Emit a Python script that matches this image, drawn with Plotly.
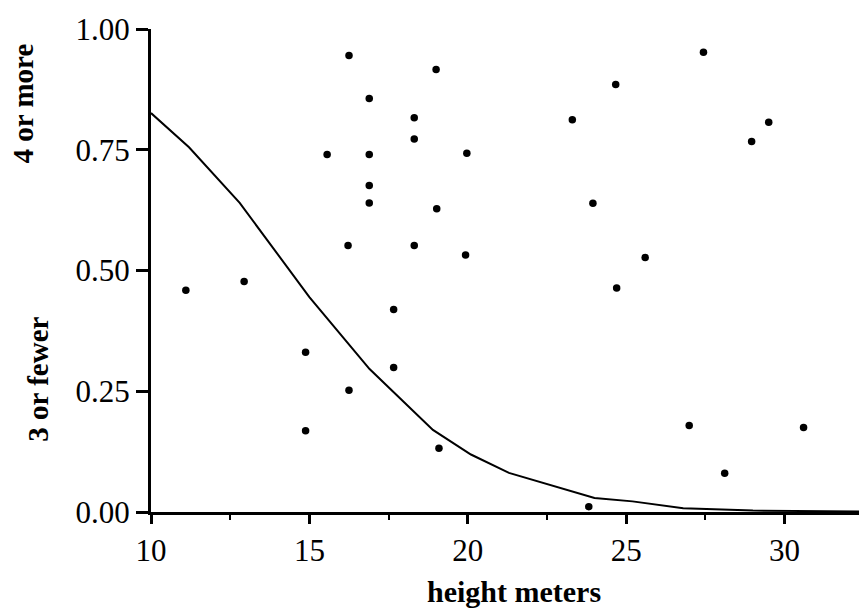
import plotly.graph_objects as go

# Scatter data (height meters, proportion)
height_pts = [11.1, 12.94, 16.25, 16.89, 18.31, 18.31, 15.56, 16.89, 16.89, 16.89,
              16.22, 18.31, 19.0, 24.67, 27.44, 23.30, 29.50, 28.96, 19.97, 19.02,
              23.95, 19.93, 25.60, 24.70, 17.66, 14.88, 17.66, 16.25, 14.88, 19.09,
              26.99, 30.60, 28.11, 23.82]
prop_pts = [0.459, 0.477, 0.945, 0.856, 0.816, 0.772, 0.740, 0.740, 0.676, 0.640,
            0.552, 0.552, 0.916, 0.885, 0.952, 0.812, 0.807, 0.767, 0.743, 0.628,
            0.639, 0.532, 0.527, 0.464, 0.419, 0.331, 0.299, 0.252, 0.168, 0.132,
            0.179, 0.175, 0.080, 0.011]

# Fitted curve vertices
curve_x = [10, 11.2, 12.8, 15.0, 16.9, 18.9, 20.1, 21.3, 24.0, 25.2, 26.8, 29.0, 32.4]
curve_y = [0.826, 0.755, 0.640, 0.445, 0.296, 0.170, 0.119, 0.081, 0.029, 0.022, 0.008, 0.003, 0.001]

x_ticks = [10, 15, 20, 25, 30]
y_ticks = [0.00, 0.25, 0.50, 0.75, 1.00]
y_tick_labels = ["0.00", "0.25", "0.50", "0.75", "1.00"]

FONT = "Liberation Serif, Times New Roman, serif"

fig = go.Figure()
fig.add_trace(go.Scatter(x=curve_x, y=curve_y, mode="lines",
                         line=dict(color="black", width=2), showlegend=False,
                         cliponaxis=False))
fig.add_trace(go.Scatter(x=height_pts, y=prop_pts, mode="markers",
                         marker=dict(color="black", size=7.5, symbol="circle"),
                         showlegend=False))

fig.update_layout(
    width=859, height=610,
    margin=dict(l=151, r=0, t=29, b=98),
    paper_bgcolor="white", plot_bgcolor="white",
    font=dict(family=FONT, color="black", size=29),
    xaxis=dict(range=[10, 32.35], tickvals=x_ticks, ticks="outside", ticklen=9,
               tickwidth=2.5, tickcolor="black", showline=True, linecolor="black",
               linewidth=3, showgrid=False, zeroline=False,
               tickfont=dict(family=FONT, size=31),
               minor=dict(dtick=2.5, tick0=10, ticks="outside", ticklen=5,
                          tickwidth=2, tickcolor="black", showgrid=False)),
    yaxis=dict(range=[0, 1], tickvals=y_ticks, ticktext=y_tick_labels,
               ticks="outside", ticklen=12, tickwidth=2.5, tickcolor="black",
               showline=True, linecolor="black", linewidth=3, showgrid=False,
               zeroline=False, tickfont=dict(family=FONT, size=31)),
    annotations=[
        dict(text="<b>4 or more</b>", xref="paper", yref="paper",
             x=-0.1815, y=0.847, textangle=-90, showarrow=False,
             font=dict(family=FONT, size=29), xanchor="center", yanchor="middle"),
        dict(text="<b>3 or fewer</b>", xref="paper", yref="paper",
             x=-0.1596, y=0.274, textangle=-90, showarrow=False,
             font=dict(family=FONT, size=29), xanchor="center", yanchor="middle"),
        dict(text="<b>height meters</b>", xref="paper", yref="paper",
             x=0.5127, y=-0.165, showarrow=False,
             font=dict(family=FONT, size=30), xanchor="center", yanchor="middle"),
    ],
)

fig.write_html("out.html", config={"displayModeBar": False},
               post_script="document.body.style.margin='0';")
